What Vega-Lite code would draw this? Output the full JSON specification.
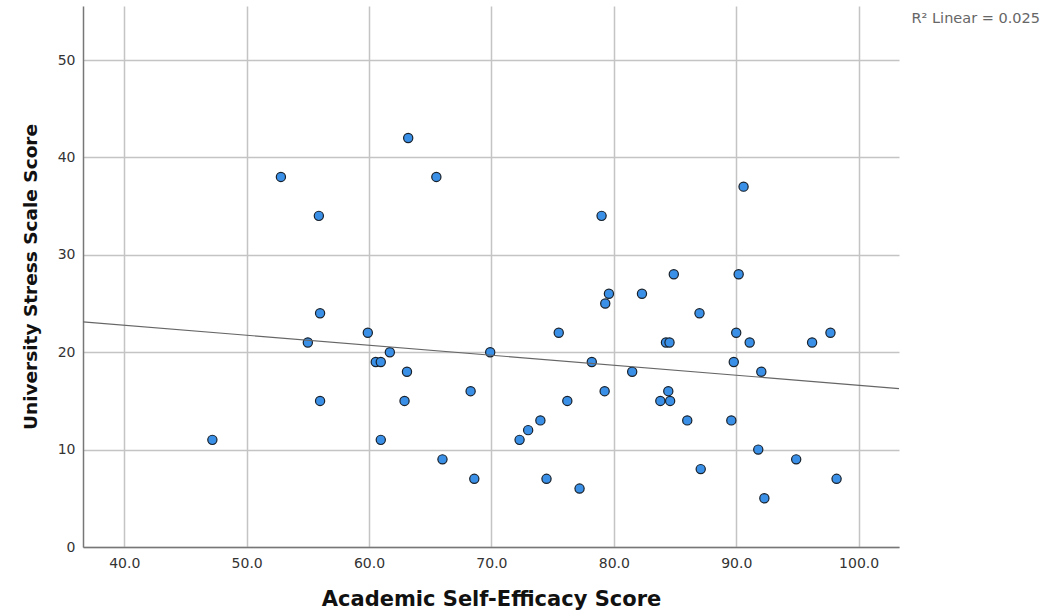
{
  "$schema": "https://vega.github.io/schema/vega-lite/v6.json",
  "autosize": "none",
  "width": 816,
  "height": 541,
  "padding": {"left": 83, "top": 6, "right": 146, "bottom": 66},
  "background": "white",
  "config": {
    "view": {"stroke": null},
    "font": "DejaVu Sans"
  },
  "title": {
    "text": "R² Linear = 0.025",
    "orient": "top",
    "anchor": "end",
    "frame": "group",
    "dx": 141,
    "offset": -20,
    "fontSize": 14.5,
    "fontWeight": "normal",
    "color": "#666666",
    "font": "DejaVu Sans"
  },
  "layer": [
    {
      "data": {
        "values": [
          {"ase": 47.2, "uss": 11}, {"ase": 52.8, "uss": 38}, {"ase": 55.0, "uss": 21},
          {"ase": 55.9, "uss": 34}, {"ase": 56.0, "uss": 24}, {"ase": 56.0, "uss": 15},
          {"ase": 59.9, "uss": 22}, {"ase": 60.55, "uss": 19}, {"ase": 60.96, "uss": 19},
          {"ase": 61.7, "uss": 20}, {"ase": 60.96, "uss": 11}, {"ase": 63.1, "uss": 18},
          {"ase": 62.9, "uss": 15}, {"ase": 63.2, "uss": 42}, {"ase": 65.5, "uss": 38},
          {"ase": 66.0, "uss": 9}, {"ase": 68.3, "uss": 16}, {"ase": 68.6, "uss": 7},
          {"ase": 69.9, "uss": 20}, {"ase": 72.3, "uss": 11}, {"ase": 73.0, "uss": 12},
          {"ase": 74.0, "uss": 13}, {"ase": 74.5, "uss": 7}, {"ase": 75.5, "uss": 22},
          {"ase": 76.2, "uss": 15}, {"ase": 77.2, "uss": 6}, {"ase": 78.2, "uss": 19},
          {"ase": 79.0, "uss": 34}, {"ase": 79.25, "uss": 16}, {"ase": 79.3, "uss": 25},
          {"ase": 79.6, "uss": 26}, {"ase": 81.5, "uss": 18}, {"ase": 82.3, "uss": 26},
          {"ase": 83.8, "uss": 15}, {"ase": 84.26, "uss": 21}, {"ase": 84.55, "uss": 21},
          {"ase": 84.45, "uss": 16}, {"ase": 84.6, "uss": 15}, {"ase": 84.9, "uss": 28},
          {"ase": 87.0, "uss": 24}, {"ase": 86.0, "uss": 13}, {"ase": 87.1, "uss": 8},
          {"ase": 89.6, "uss": 13}, {"ase": 89.8, "uss": 19}, {"ase": 90.0, "uss": 22},
          {"ase": 90.2, "uss": 28}, {"ase": 90.6, "uss": 37}, {"ase": 91.1, "uss": 21},
          {"ase": 91.8, "uss": 10}, {"ase": 92.05, "uss": 18}, {"ase": 92.3, "uss": 5},
          {"ase": 94.9, "uss": 9}, {"ase": 96.2, "uss": 21}, {"ase": 97.7, "uss": 22},
          {"ase": 98.2, "uss": 7}
        ]
      },
      "mark": {"type": "point", "shape": "circle", "filled": true, "size": 85, "fill": "#3a8fe6", "stroke": "#18212b", "strokeWidth": 1.2, "opacity": 1},
      "encoding": {
        "x": {
          "field": "ase", "type": "quantitative",
          "scale": {"domain": [36.63, 103.3], "nice": false, "zero": false},
          "axis": {
            "title": "Academic Self-Efficacy Score",
            "values": [40, 50, 60, 70, 80, 90, 100],
            "format": ".1f",
            "ticks": false,
            "labelPadding": 9,
            "labelFontSize": 14,
            "labelColor": "#333333",
            "labelFont": "DejaVu Sans",
            "domainColor": "#777777",
            "domainWidth": 1.5,
            "grid": true,
            "gridColor": "#c4c4c4",
            "gridWidth": 1.5,
            "titleFont": "DejaVu Sans",
            "titleFontSize": 21,
            "titleFontWeight": "bold",
            "titleColor": "#111111",
            "titlePadding": 18
          }
        },
        "y": {
          "field": "uss", "type": "quantitative",
          "scale": {"domain": [0, 55.55], "nice": false, "zero": false},
          "axis": {
            "title": "University Stress Scale Score",
            "values": [0, 10, 20, 30, 40, 50],
            "ticks": false,
            "labelPadding": 8,
            "labelFontSize": 14,
            "labelColor": "#333333",
            "labelFont": "DejaVu Sans",
            "domainColor": "#777777",
            "domainWidth": 1.5,
            "grid": true,
            "gridColor": "#c4c4c4",
            "gridWidth": 1.5,
            "titleFont": "DejaVu Sans",
            "titleFontSize": 18.5,
            "titleFontWeight": "bold",
            "titleColor": "#111111",
            "titlePadding": 17
          }
        }
      }
    },
    {
      "data": {"values": [{"ase": 36.63, "uss": 23.12}, {"ase": 103.3, "uss": 16.27}]},
      "mark": {"type": "line", "color": "#666666", "strokeWidth": 1.2},
      "encoding": {
        "x": {"field": "ase", "type": "quantitative"},
        "y": {"field": "uss", "type": "quantitative"}
      }
    }
  ]
}
